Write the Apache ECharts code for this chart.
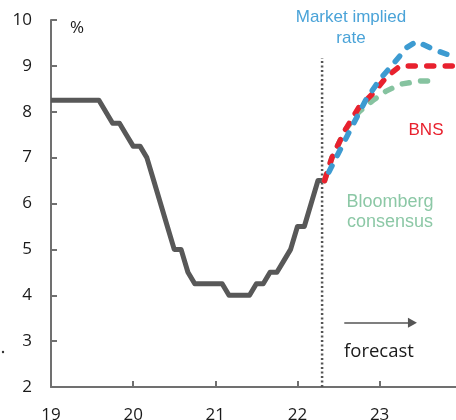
<!DOCTYPE html>
<html><head><meta charset="utf-8">
<script src="https://cdn.jsdelivr.net/npm/echarts@6/dist/echarts.min.js"></script>
<style>html,body{margin:0;padding:0;background:#fff}#c{width:456px;height:420px}</style>
</head><body><div id="c"></div>
<script>
// ---- data ----
const histMonths = ["2018-12","2019-01","2019-02","2019-03","2019-04","2019-05","2019-06","2019-07","2019-08","2019-09","2019-10","2019-11","2019-12",
"2020-01","2020-02","2020-03","2020-04","2020-05","2020-06","2020-07","2020-08","2020-09","2020-10","2020-11","2020-12",
"2021-01","2021-02","2021-03","2021-04","2021-05","2021-06","2021-07","2021-08","2021-09","2021-10","2021-11","2021-12",
"2022-01","2022-02","2022-03","2022-04"];
const histRate = [8.25,8.25,8.25,8.25,8.25,8.25,8.25,8.25,8.0,7.75,7.75,7.5,7.25,
7.25,7.0,6.5,6.0,5.5,5.0,5.0,4.5,4.25,4.25,4.25,4.25,
4.25,4.0,4.0,4.0,4.0,4.25,4.25,4.5,4.5,4.75,5.0,5.5,
5.5,6.0,6.5,6.5];
const marketX = [22.33,22.5,22.67,22.83,23.0,23.17,23.33,23.45,23.67,23.93];
const marketY = [6.5,7.1,7.7,8.25,8.7,9.05,9.4,9.53,9.35,9.18];
const bnsX = [22.33,22.42,22.58,22.75,22.92,23.08,23.25,23.5,23.93];
const bnsY = [6.5,7.0,7.6,8.1,8.4,8.75,9.0,9.0,9.0];
const bbgX = [22.33,22.42,22.58,22.75,22.92,23.08,23.25,23.5,23.67];
const bbgY = [6.5,7.0,7.6,8.0,8.25,8.45,8.6,8.67,8.67];
const forecastStart = 22.30;
const forecastLineTop = 9.17;
const arrowFrom = [22.57, 3.4];
const arrowTo = [23.40, 3.4];
const xTickLabels = [19,20,21,22,23];
const xTickMarks = [20,21,22,23];
const yMin = 2, yMax = 10;

// ---- build ----
function monthToYear(m){const [y,mo]=m.split("-").map(Number);return (y-2000)+mo/12;}
const histData = histMonths.map((m,i)=>[monthToYear(m),histRate[i]]);
const zip=(xs,ys)=>xs.map((x,i)=>[x,ys[i]]);

const chart = echarts.init(document.getElementById('c'));
const axisCol = '#707070';
const dash = [7,11.5];
chart.setOption({
  animation:false,
  grid:{left:51,right:0,top:20,bottom:33,containLabel:false,outerBoundsMode:'none'},
  xAxis:{type:'value',min:19,max:23.93,interval:1,
    axisLine:{lineStyle:{color:axisCol,width:2}},
    axisTick:{inside:true,length:6,lineStyle:{color:axisCol,width:2},customValues:xTickMarks},
    axisLabel:{customValues:xTickLabels,margin:20,fontSize:17,color:'#1a1a1a',fontFamily:'Open Sans',formatter:v=>String(v)},
    splitLine:{show:false}},
  yAxis:{type:'value',min:yMin,max:yMax,interval:1,
    axisLine:{show:true,lineStyle:{color:axisCol,width:2}},
    axisTick:{show:true,inside:true,length:6,lineStyle:{color:axisCol,width:2}},
    axisLabel:{margin:19,fontSize:17,color:'#1a1a1a',fontFamily:'Open Sans'},
    splitLine:{show:false}},
  series:[
    {type:'line',data:[[forecastStart,yMin],[forecastStart,forecastLineTop]],symbol:'none',
      lineStyle:{color:'#555',width:2.5,type:[2,2.5]},z:1,
      markLine:{silent:true,symbol:['none','triangle'],symbolSize:[10,9],label:{show:false},
        lineStyle:{color:'#555',width:1.5,type:'solid'},
        data:[[{coord:arrowFrom},{coord:arrowTo}]]}},
    {type:'line',data:histData,symbol:'none',lineStyle:{color:'#585858',width:5,join:'round'},z:2},
    {type:'line',data:zip(bbgX,bbgY),symbol:'none',lineStyle:{color:'#86c3a0',width:5.5,type:dash,cap:'round'},z:3},
    {type:'line',data:zip(bnsX,bnsY),symbol:'none',lineStyle:{color:'#e8212e',width:5.5,type:dash,cap:'round',dashOffset:0},z:4},
    {type:'line',data:zip(marketX,marketY),symbol:'none',lineStyle:{color:'#3d9bd1',width:5.5,type:dash,cap:'round',dashOffset:9},z:5}
  ],
  graphic:[
    {type:'text',left:70,top:20,style:{text:'%',fontSize:17,fontFamily:'Open Sans',fill:'#1a1a1a'}},
    {type:'text',x:351,y:7,style:{text:'Market implied\nrate',fontSize:17,lineHeight:21,fontFamily:'Liberation Sans',fill:'#4aa3d8',align:'center'}},
    {type:'text',x:426,y:122,style:{text:'BNS',fontSize:17,fontFamily:'Liberation Sans',fill:'#e8212e',align:'center'}},
    {type:'text',x:390,y:192,style:{text:'Bloomberg\nconsensus',fontSize:18,lineHeight:20,fontFamily:'Liberation Sans',fill:'#8cc8a6',align:'center'}},
    {type:'text',x:379,y:342,style:{text:'forecast',fontSize:18.5,fontFamily:'Open Sans',fill:'#1a1a1a',align:'center'}},
    {type:'circle',shape:{cx:3,cy:352,r:1.2},style:{fill:'#333'}}
  ]
});
</script></body></html>
